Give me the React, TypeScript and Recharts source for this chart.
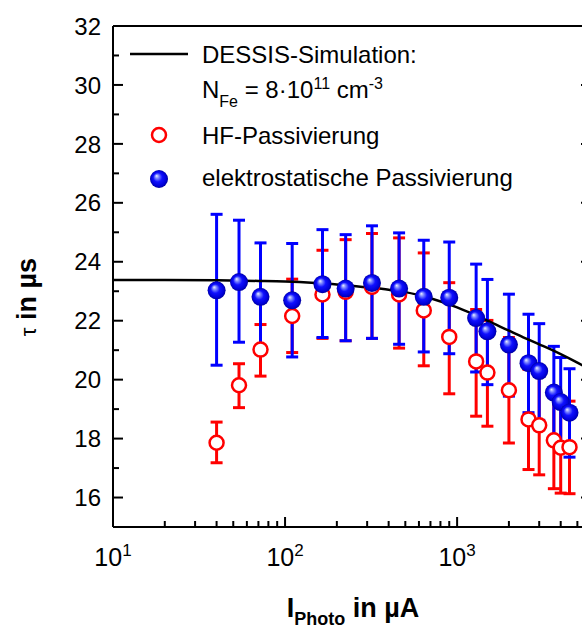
import { ComposedChart, Scatter, XAxis, YAxis, ErrorBar, Legend } from "recharts";

// photo current in µA (shared by both measurement series)
const current = [40, 54, 72, 110, 165, 225, 320, 460, 640, 900, 1290, 1500, 2000, 2600, 3000, 3650, 4000, 4500];

// HF-Passivierung
const hfTau = [17.86, 19.81, 21.02, 22.16, 22.89, 22.98, 23.15, 22.89, 22.35, 21.45, 20.62, 20.24, 19.64, 18.65, 18.45, 17.94, 17.69, 17.71];
const hfLow = [17.18, 19.05, 20.12, 20.92, 21.4, 21.32, 21.4, 21.07, 20.47, 19.52, 18.76, 18.42, 17.85, 16.95, 16.77, 16.3, 16.15, 16.13];
const hfHigh = [18.56, 20.54, 21.87, 23.41, 24.39, 24.75, 24.96, 24.81, 24.3, 23.29, 22.38, 22.01, 21.43, 20.35, 20.12, 19.58, 19.23, 19.27];

// elektrostatische Passivierung
const elTau = [23.03, 23.31, 22.81, 22.69, 23.24, 23.09, 23.28, 23.09, 22.81, 22.78, 22.09, 21.64, 21.19, 20.56, 20.29, 19.56, 19.24, 18.88];
const elLow = [20.49, 21.27, 21.0, 20.77, 21.43, 21.32, 21.4, 21.2, 20.94, 20.88, 20.26, 19.83, 19.44, 18.88, 18.62, 18.0, 17.66, 17.37];
const elHigh = [25.61, 25.41, 24.64, 24.62, 25.09, 24.92, 25.22, 24.98, 24.73, 24.67, 23.92, 23.4, 22.9, 22.22, 21.9, 21.13, 20.75, 20.37];

// DESSIS simulation, N_Fe = 8e11 cm^-3
const simI = [10, 20, 40, 70, 100, 150, 200, 300, 400, 500, 700, 1000, 1500, 2000, 2500, 3000, 3500, 4000, 5000, 6000];
const simTau = [23.38, 23.38, 23.37, 23.35, 23.33, 23.28, 23.23, 23.13, 23.05, 22.97, 22.76, 22.45, 22.0, 21.66, 21.4, 21.2, 21.03, 20.87, 20.58, 20.32];

const xTicks = [10, 20, 30, 40, 50, 60, 70, 80, 90, 100, 200, 300, 400, 500, 600, 700, 800, 900, 1000, 2000, 3000, 4000, 5000];
const yTicks = [15, 16, 17, 18, 19, 20, 21, 22, 23, 24, 25, 26, 27, 28, 29, 30, 31, 32];

const measData = (tau: number[], lo: number[], hi: number[]) =>
  current.map((x, i) => ({ x, tau: tau[i], err: [tau[i] - lo[i], hi[i] - tau[i]] }));
const hfData = measData(hfTau, hfLow, hfHigh);
const elData = measData(elTau, elLow, elHigh);
const simData = simI.map((x, i) => ({ x, tau: simTau[i] }));

const FONT = '"Liberation Sans", Arial, Helvetica, sans-serif';
const LEFT = 113;
const TOP = 26;
const BOTTOM = 527;
const RIGHT = 591;

const isDecade = (v: number) => Math.abs(Math.log10(v) - Math.round(Math.log10(v))) < 1e-6;

function BottomTick({ x, payload }: any) {
  const v = payload.value;
  const major = isDecade(v);
  return (
    <g>
      <line x1={x} x2={x} y1={BOTTOM} y2={BOTTOM - (major ? 10 : 6)} stroke="#000" strokeWidth={2} />
      {major && (
        <text x={x} y={566} textAnchor="middle" fontSize={25} fontFamily={FONT} fill="#000">
          10
          <tspan fontSize={17} dy={-10}>{Math.round(Math.log10(v))}</tspan>
        </text>
      )}
    </g>
  );
}

function TopTick({ x, payload }: any) {
  const major = isDecade(payload.value);
  return <line x1={x} x2={x} y1={TOP} y2={TOP + (major ? 10 : 6)} stroke="#000" strokeWidth={2} />;
}

function LeftTick({ y, payload }: any) {
  const v = payload.value;
  const major = v % 2 === 0;
  return (
    <g>
      <line x1={LEFT} x2={LEFT + (major ? 10 : 6)} y1={y} y2={y} stroke="#000" strokeWidth={2} />
      {major && (
        <text x={101} y={y} dy="0.36em" textAnchor="end" fontSize={24} fontFamily={FONT} fill="#000">
          {v}
        </text>
      )}
    </g>
  );
}

function RightTick({ y, payload }: any) {
  const major = payload.value % 2 === 0;
  return <line x1={RIGHT} x2={RIGHT - (major ? 10 : 6)} y1={y} y2={y} stroke="#000" strokeWidth={2} />;
}

const ball = (p: any) => <circle cx={p.cx} cy={p.cy} r={9} fill="url(#ball)" />;
const ring = (p: any) => <circle cx={p.cx} cy={p.cy} r={7} fill="#fff" stroke="#ff0000" strokeWidth={2.5} />;

function LegendBox() {
  return (
    <svg width={582} height={200} style={{ overflow: "visible" }}>
      <defs>
        <radialGradient id="ballL" cx="50%" cy="50%" r="50%" fx="36%" fy="32%">
          <stop offset="0%" stopColor="#eef0ff" />
          <stop offset="22%" stopColor="#7d88ff" />
          <stop offset="50%" stopColor="#1010ff" />
          <stop offset="85%" stopColor="#0000d6" />
          <stop offset="100%" stopColor="#00009a" />
        </radialGradient>
      </defs>
      <g fontFamily={FONT} fontSize={24} fill="#000">
        <line x1={130} x2={188} y1={54} y2={54} stroke="#000" strokeWidth={2.5} />
        <text x={202} y={63}>DESSIS-Simulation:</text>
        <text x={202} y={98}>
          N<tspan fontSize={16} dy={9}>Fe</tspan>
          <tspan dy={-9}> = 8{"\u00B7"}10</tspan>
          <tspan fontSize={16} dy={-9}>11</tspan>
          <tspan dy={9}> cm</tspan>
          <tspan fontSize={16} dy={-9}>-3</tspan>
        </text>
        <circle cx={159} cy={135} r={7} fill="#fff" stroke="#ff0000" strokeWidth={2.5} />
        <text x={202} y={144}>HF-Passivierung</text>
        <circle cx={159} cy={179} r={9} fill="url(#ballL)" />
        <text x={202} y={186}>elektrostatische Passivierung</text>
      </g>
    </svg>
  );
}

export default function App() {
  return (
    <div style={{ position: "fixed", left: 0, top: 0, width: 582, height: 629, overflow: "hidden", background: "#fff" }}>
      <ComposedChart width={592} height={629} margin={{ top: 25, right: 0, bottom: 0, left: 0 }}>
        <defs>
          <radialGradient id="ball" cx="50%" cy="50%" r="50%" fx="36%" fy="32%">
            <stop offset="0%" stopColor="#eef0ff" />
            <stop offset="22%" stopColor="#7d88ff" />
            <stop offset="50%" stopColor="#1010ff" />
            <stop offset="85%" stopColor="#0000d6" />
            <stop offset="100%" stopColor="#00009a" />
          </radialGradient>
        </defs>
        <XAxis
          dataKey="x"
          type="number"
          scale="log"
          domain={[10, 6000]}
          allowDataOverflow
          ticks={xTicks}
          interval={0}
          tick={<BottomTick />}
          tickLine={false}
          axisLine={{ stroke: "#000", strokeWidth: 2 }}
          height={102}
          label={{
            content: () => (
              <text x={353} y={617} textAnchor="middle" fontSize={27} fontWeight="bold" fontFamily={FONT} fill="#000">
                I<tspan fontSize={18} dy={8}>Photo</tspan>
                <tspan dy={-8}> in µA</tspan>
              </text>
            ),
          }}
        />
        <XAxis
          xAxisId="top"
          orientation="top"
          type="number"
          scale="log"
          domain={[10, 6000]}
          allowDataOverflow
          ticks={xTicks}
          interval={0}
          tick={<TopTick />}
          tickLine={false}
          axisLine={{ stroke: "#000", strokeWidth: 2 }}
          height={1}
        />
        <YAxis
          dataKey="tau"
          type="number"
          domain={[15, 32]}
          allowDataOverflow
          ticks={yTicks}
          interval={0}
          tick={<LeftTick />}
          tickLine={false}
          axisLine={{ stroke: "#000", strokeWidth: 2 }}
          width={113}
          label={{
            content: () => (
              <text
                x={36}
                y={297}
                transform="rotate(-90 36 297)"
                textAnchor="middle"
                fontSize={27}
                fontWeight="bold"
                fontFamily={FONT}
                fill="#000"
              >
                <tspan fontWeight="normal" fontSize={22}>τ</tspan> in µs
              </text>
            ),
          }}
        />
        <YAxis
          yAxisId="right"
          orientation="right"
          type="number"
          domain={[15, 32]}
          allowDataOverflow
          ticks={yTicks}
          interval={0}
          tick={<RightTick />}
          tickLine={false}
          axisLine={{ stroke: "#000", strokeWidth: 2 }}
          width={1}
        />
        <Scatter
          name="DESSIS-Simulation"
          data={simData}
          line={{ stroke: "#000", strokeWidth: 2.5 }}
          lineJointType="monotoneX"
          shape={() => <g />}
          isAnimationActive={false}
        />
        <Scatter name="HF-Passivierung" data={hfData} shape={ring} isAnimationActive={false}>
          <ErrorBar dataKey="err" direction="y" width={6} stroke="#ff0000" strokeWidth={3} isAnimationActive={false} />
        </Scatter>
        <Scatter name="elektrostatische Passivierung" data={elData} shape={ball} isAnimationActive={false}>
          <ErrorBar dataKey="err" direction="y" width={6} stroke="#0000ff" strokeWidth={3} isAnimationActive={false} />
        </Scatter>
        <Legend
          verticalAlign="middle"
          align="center"
          content={() => <LegendBox />}
          wrapperStyle={{ top: 0, left: 0, width: 582, height: 200 }}
        />
      </ComposedChart>
    </div>
  );
}
